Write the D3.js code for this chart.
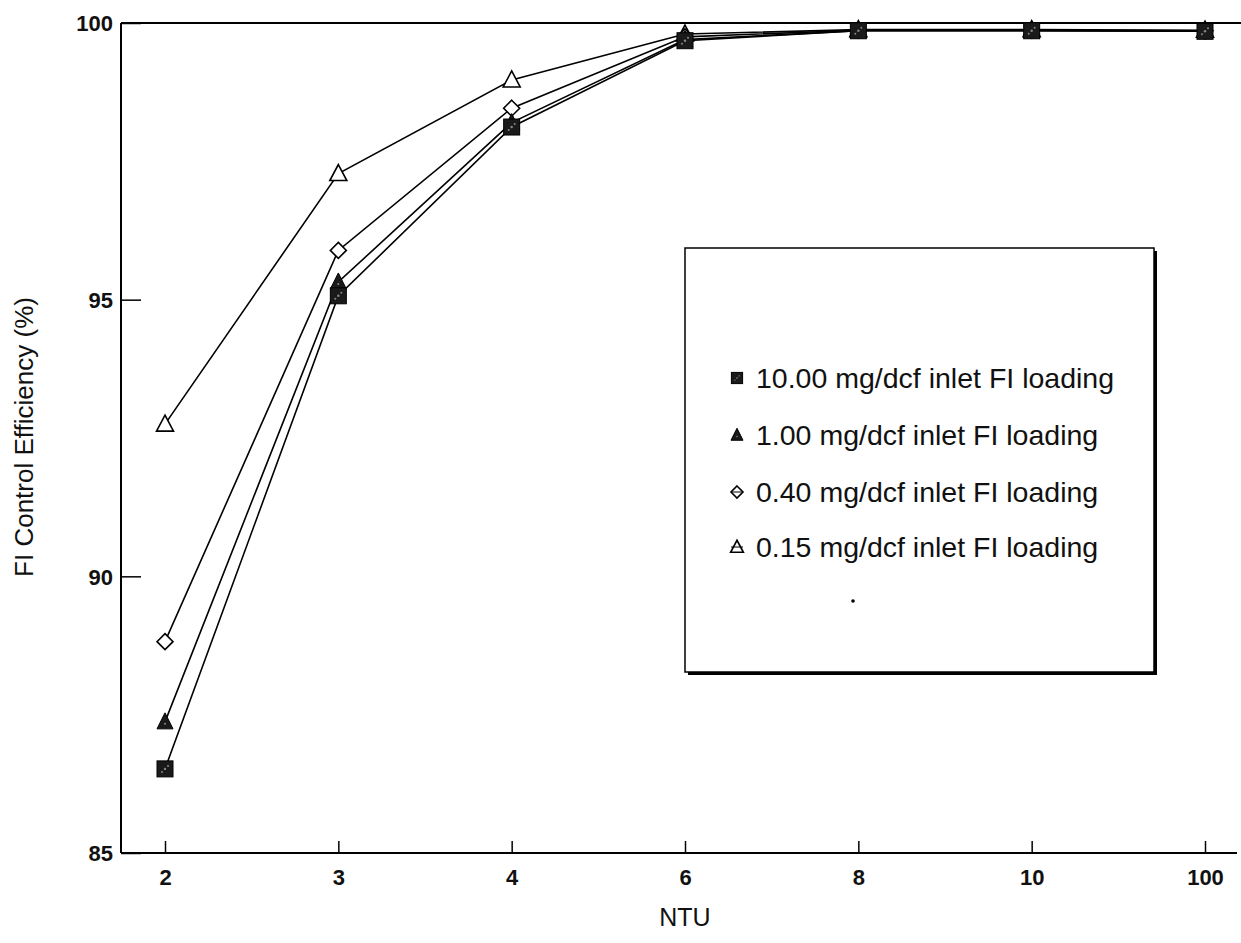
<!DOCTYPE html>
<html><head><meta charset="utf-8">
<script src="https://cdn.jsdelivr.net/npm/d3@7"></script>
<style>body{margin:0;background:#fff}svg{display:block}text{font-family:"Liberation Sans",Arial,sans-serif;fill:#111}</style>
</head><body><svg id="c" width="1241" height="943"></svg>
<script>
const categories = ["2","3","4","6","8","10","100"];
const s10 = [86.52, 95.07, 98.12, 99.68, 99.86, 99.86, 99.85];
const s100 = [87.37, 95.32, 98.2, 99.7, 99.86, 99.86, 99.85];
const s040 = [88.82, 95.89, 98.46, 99.75, 99.87, 99.87, 99.86];
const s015 = [92.75, 97.28, 98.97, 99.8, 99.88, 99.88, 99.87];
const seriesNames = ["10.00 mg/dcf inlet FI loading","1.00 mg/dcf inlet FI loading","0.40 mg/dcf inlet FI loading","0.15 mg/dcf inlet FI loading"];
const yTicks = [85, 90, 95, 100];

(function(){
const series = [
  {name: seriesNames[0], values: s10, sym: "square"},
  {name: seriesNames[1], values: s100, sym: "ftri"},
  {name: seriesNames[2], values: s040, sym: "diamond"},
  {name: seriesNames[3], values: s015, sym: "otri"}
];

const svg = d3.select("#c");
const pL = 121, pR = 1237, pT = 23, pB = 853;
const x = d3.scalePoint().domain(categories).range([165, 1205]);
const y = d3.scaleLinear().domain([85, 100]).range([pB, pT]);

svg.append("line").attr("x1", pL).attr("x2", 1241).attr("y1", pT).attr("y2", pT).attr("stroke", "#000").attr("stroke-width", 2);
svg.append("line").attr("x1", pL).attr("x2", pR).attr("y1", pB).attr("y2", pB).attr("stroke", "#000").attr("stroke-width", 2);
svg.append("line").attr("x1", pL).attr("x2", pL).attr("y1", pT).attr("y2", pB).attr("stroke", "#000").attr("stroke-width", 2);

const ya = svg.append("g").attr("transform", `translate(${pL},0)`)
  .call(d3.axisRight(y).tickValues(yTicks).tickSize(20).tickFormat(d3.format("d")));
ya.select(".domain").remove();
ya.selectAll("line").attr("stroke", "#000").attr("stroke-width", 1.5);
ya.selectAll("text").attr("x", -8).attr("text-anchor", "end").attr("font-size", 22).attr("font-weight", "bold").attr("dy", "0.35em");

const xa = svg.append("g").attr("transform", `translate(0,${pB})`)
  .call(d3.axisTop(x).tickSize(12));
xa.select(".domain").remove();
xa.selectAll("line").attr("stroke", "#000").attr("stroke-width", 1.5);
xa.selectAll("text").attr("y", 24).attr("dy", "0.35em").attr("font-size", 22).attr("font-weight", "bold");

svg.append("text").attr("x", 685).attr("y", 926).attr("text-anchor", "middle").attr("font-size", 25).text("NTU");
svg.append("text").attr("transform", "translate(33,437) rotate(-90)").attr("text-anchor", "middle").attr("font-size", 26).text("FI Control Efficiency (%)");

const line = d3.line().x((d, i) => x(categories[i])).y(d => y(d));
series.forEach(s => {
  svg.append("path").datum(s.values).attr("d", line).attr("fill", "none").attr("stroke", "#000").attr("stroke-width", 1.6);
});

function drawSym(g, sym, cx, cy, scale) {
  const k = scale || 1;
  if (sym === "square") {
    g.append("rect").attr("x", cx - 8*k).attr("y", cy - 8*k).attr("width", 16*k).attr("height", 16*k).attr("fill", "#1a1a1a").attr("stroke", "#000");
    g.append("circle").attr("cx", cx).attr("cy", cy).attr("r", 1.2*k).attr("fill", "#888");
    g.append("circle").attr("cx", cx-3*k).attr("cy", cy+3*k).attr("r", 1*k).attr("fill", "#888");
    g.append("circle").attr("cx", cx+3*k).attr("cy", cy-3*k).attr("r", 1*k).attr("fill", "#888");
  } else if (sym === "ftri") {
    g.append("path").attr("d", `M${cx},${cy-9*k}L${cx+8*k},${cy+7*k}L${cx-8*k},${cy+7*k}Z`).attr("fill", "#1a1a1a").attr("stroke", "#000");
    g.append("circle").attr("cx", cx).attr("cy", cy+2*k).attr("r", 1*k).attr("fill", "#888");
  } else if (sym === "otri") {
    g.append("path").attr("d", `M${cx},${cy-9*k}L${cx+8.5*k},${cy+7*k}L${cx-8.5*k},${cy+7*k}Z`).attr("fill", "#fff").attr("stroke", "#000").attr("stroke-width", 1.6);
  } else if (sym === "diamond") {
    g.append("path").attr("d", `M${cx},${cy-8*k}L${cx+8*k},${cy}L${cx},${cy+8*k}L${cx-8*k},${cy}Z`).attr("fill", "#fff").attr("stroke", "#000").attr("stroke-width", 1.6);
  }
}

[...series].reverse().forEach(s => {
  const g = svg.append("g");
  s.values.forEach((v, i) => drawSym(g, s.sym, x(categories[i]), y(v)));
});

const lg = svg.append("g");
lg.append("rect").attr("x", 688).attr("y", 251).attr("width", 469).attr("height", 424).attr("fill", "#000");
lg.append("rect").attr("x", 685).attr("y", 248).attr("width", 469).attr("height", 424).attr("fill", "#fff").attr("stroke", "#000").attr("stroke-width", 1.5);
const legY = [378, 435, 492, 547];
series.forEach((s, i) => {
  drawSym(lg, s.sym, 737, legY[i], s.sym === "square" ? 0.7 : 0.75);
  if (s.sym === "diamond" || s.sym === "otri") lg.append("line").attr("x1", 731).attr("x2", 743).attr("y1", legY[i]).attr("y2", legY[i]).attr("stroke", "#000");
  lg.append("text").attr("x", 756).attr("y", legY[i]).attr("dy", "0.35em").attr("font-size", 28.5).text(s.name);
});
lg.append("circle").attr("cx", 853).attr("cy", 601).attr("r", 1.8).attr("fill", "#000");
})();
</script></body></html>
